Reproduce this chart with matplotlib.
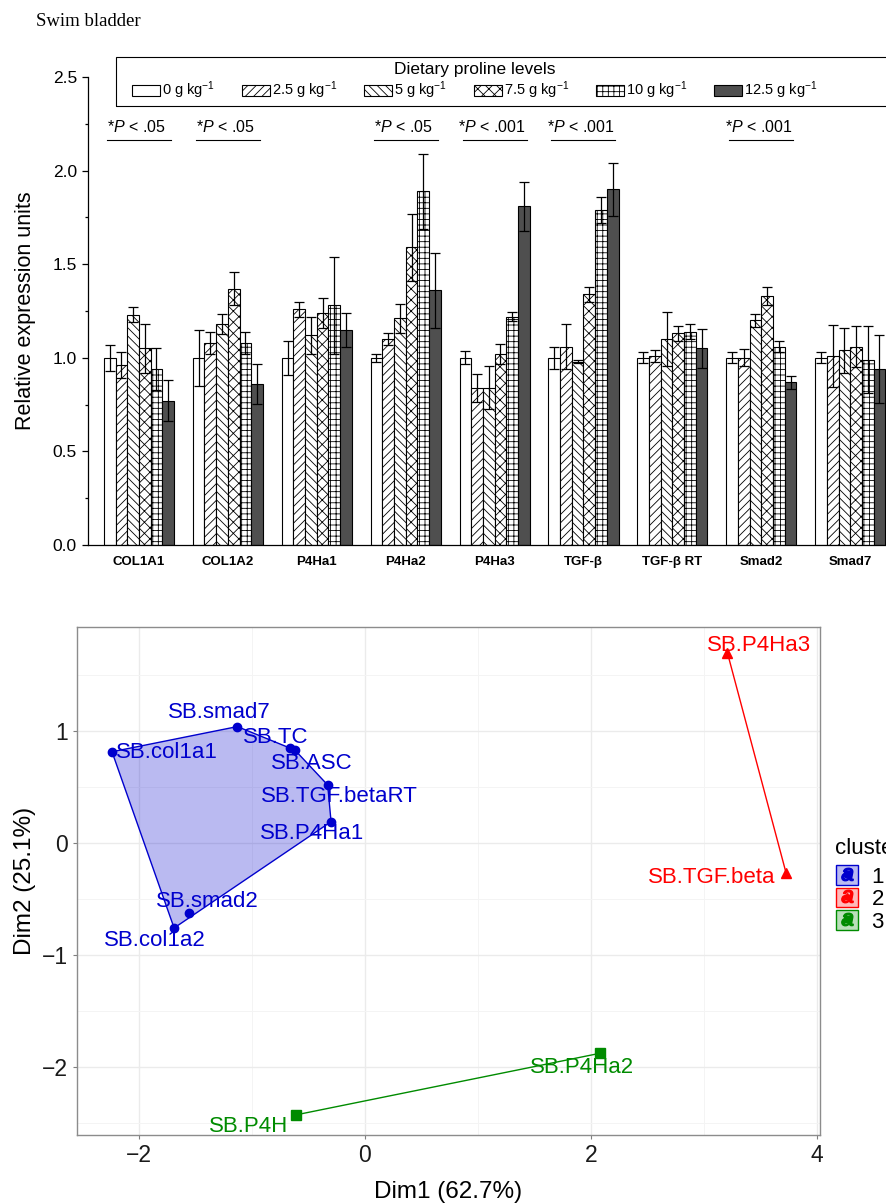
"""Swim bladder: bar chart of gene expression + PCA cluster plot."""
import matplotlib

matplotlib.use("Agg")
import matplotlib.pyplot as plt
import numpy as np
from matplotlib.legend_handler import HandlerTuple
from matplotlib.lines import Line2D
from matplotlib.patches import Patch, Rectangle

plt.rcParams["font.family"] = ["Liberation Sans", "DejaVu Sans"]
plt.rcParams["mathtext.fontset"] = "custom"
plt.rcParams["mathtext.rm"] = "Liberation Sans"
plt.rcParams["mathtext.it"] = "Liberation Sans:italic"
plt.rcParams["hatch.linewidth"] = 0.6

# --- top panel data ---
genes = ["COL1A1", "COL1A2", "P4Ha1", "P4Ha2", "P4Ha3", "TGF-β", "TGF-β RT", "Smad2", "Smad7"]
levels = ["0", "2.5", "5", "7.5", "10", "12.5"]

mean_0 = [1.00, 1.00, 1.00, 1.00, 1.00, 1.00, 1.00, 1.00, 1.00]
mean_2_5 = [0.96, 1.08, 1.26, 1.10, 0.84, 1.06, 1.01, 1.00, 1.01]
mean_5 = [1.23, 1.18, 1.12, 1.21, 0.84, 0.98, 1.10, 1.20, 1.04]
mean_7_5 = [1.05, 1.37, 1.24, 1.59, 1.02, 1.34, 1.13, 1.33, 1.06]
mean_10 = [0.94, 1.08, 1.28, 1.89, 1.22, 1.79, 1.14, 1.06, 0.99]
mean_12_5 = [0.77, 0.86, 1.15, 1.36, 1.81, 1.90, 1.05, 0.87, 0.94]

se_0 = [0.07, 0.15, 0.09, 0.02, 0.035, 0.06, 0.03, 0.03, 0.03]
se_2_5 = [0.07, 0.06, 0.04, 0.03, 0.075, 0.12, 0.03, 0.045, 0.165]
se_5 = [0.04, 0.055, 0.10, 0.08, 0.115, 0.01, 0.145, 0.035, 0.12]
se_7_5 = [0.13, 0.09, 0.08, 0.18, 0.055, 0.04, 0.04, 0.05, 0.11]
se_10 = [0.11, 0.06, 0.26, 0.20, 0.025, 0.07, 0.04, 0.03, 0.18]
se_12_5 = [0.11, 0.105, 0.09, 0.20, 0.13, 0.14, 0.105, 0.035, 0.18]

sig_genes = ["COL1A1", "COL1A2", "P4Ha2", "P4Ha3", "TGF-β", "Smad2"]
sig_p = [".05", ".05", ".05", ".001", ".001", ".001"]

# --- bottom panel data ---
var_names = ["SB.col1a1", "SB.smad7", "SB.TC", "SB.ASC", "SB.TGF.betaRT", "SB.P4Ha1",
             "SB.smad2", "SB.col1a2", "SB.P4Ha3", "SB.TGF.beta", "SB.P4Ha2", "SB.P4H"]
dim1 = [-2.24, -1.13, -0.66, -0.62, -0.33, -0.30, -1.56, -1.69, 3.21, 3.73, 2.08, -0.61]
dim2 = [0.815, 1.04, 0.846, 0.83, 0.518, 0.19, -0.628, -0.76, 1.70, -0.27, -1.88, -2.43]
cluster = [1, 1, 1, 1, 1, 1, 1, 1, 2, 2, 3, 3]

# label placement (pixels from the point), like ggrepel left them
label_offset = {
    "SB.col1a1": (55, -1), "SB.smad7": (-18, 14), "SB.TC": (-15, 11),
    "SB.ASC": (17, -13), "SB.TGF.betaRT": (12, -12), "SB.P4Ha1": (-19, -12),
    "SB.smad2": (19, 12), "SB.col1a2": (-19, -13), "SB.P4Ha3": (32, 7),
    "SB.TGF.beta": (-74, -4), "SB.P4Ha2": (-18, -14), "SB.P4H": (-47, -12),
}

W, H = 887, 1203
fig = plt.figure(figsize=(W / 100, H / 100), dpi=100)

fig.text(36 / W, 1 - 22 / H, "Swim bladder", family=["Liberation Serif"], fontsize=13.5,
         ha="left", va="center")

# ---------------- top: bars ----------------
ax1 = fig.add_axes([88 / W, 1 - 545 / H, (900 - 88) / W, (545 - 77) / H])
means = [mean_0, mean_2_5, mean_5, mean_7_5, mean_10, mean_12_5]
errs = [se_0, se_2_5, se_5, se_7_5, se_10, se_12_5]
hatches = ["", "////", "\\\\\\\\", "xxx", "+++", ""]
fills = ["white", "white", "white", "white", "white", "#4f4f4f"]
bw = 0.1315
x = np.arange(len(genes))
handles = []
for k in range(len(levels)):
    b = ax1.bar(x + (k - 2.5) * bw, means[k], bw, yerr=errs[k], color=fills[k],
                edgecolor="black", hatch=hatches[k], linewidth=0.8,
                error_kw=dict(ecolor="black", elinewidth=0.9, capsize=3.6, capthick=0.9))
    handles.append(b)

for g, p in zip(sig_genes, sig_p):
    i = genes.index(g)
    ax1.plot([i - 0.36, i + 0.36], [2.163, 2.163], color="black", lw=0.8)
    ax1.text(i - 0.03, 2.19, f"*$P$ < {p}", ha="center", va="bottom", fontsize=11.5)

ax1.set_xlim(-0.573, 8.56)
ax1.set_ylim(0, 2.5)
ax1.set_xticks(x)
ax1.set_xticklabels(genes, fontweight="bold", fontsize=9.5)
ax1.tick_params(axis="x", length=0, pad=8)
ax1.set_yticks(np.arange(0, 2.51, 0.5))
ax1.set_yticks(np.arange(0.25, 2.5, 0.5), minor=True)
ax1.yaxis.set_major_formatter(plt.FormatStrFormatter("%.1f"))
ax1.tick_params(axis="y", which="major", length=4.5, width=0.9, labelsize=12.5)
ax1.tick_params(axis="y", which="minor", length=2.5, width=0.9)
for s in ["top", "right"]:
    ax1.spines[s].set_visible(False)
for s in ["left", "bottom"]:
    ax1.spines[s].set_linewidth(0.9)
ax1.set_ylabel("Relative expression units", fontsize=15.5, labelpad=12)

labels = [f"{l} g kg$^{{-1}}$" for l in levels]
fig.legend(handles, labels, loc="upper left", bbox_to_anchor=(121 / W, 1 - 51 / H),
           ncol=6, frameon=False, title="Dietary proline levels", title_fontsize=12.5,
           fontsize=10.5, handlelength=1.9, handleheight=0.85, handletextpad=0.15,
           columnspacing=1.85, borderpad=0.25, labelspacing=0.2)
fig.patches.append(Rectangle((116 / W, 1 - 106 / H), (905 - 116) / W, 49 / H,
                             transform=fig.transFigure, fill=False,
                             edgecolor="black", lw=0.8))

# ---------------- bottom: cluster plot ----------------
ax2 = fig.add_axes([77 / W, 1 - 1135 / H, (820 - 77) / W, (1135 - 627) / H])
colors = {1: "#0000CD", 2: "#FF0000", 3: "#008B00"}
markers = {1: "o", 2: "^", 3: "s"}
msize = {1: 6, 2: 7.5, 3: 6.5}


def hull(pts):
    pts = sorted(set(pts))
    if len(pts) < 3:
        return pts

    def cross(o, a, b):
        return (a[0] - o[0]) * (b[1] - o[1]) - (a[1] - o[1]) * (b[0] - o[0])

    lower, upper = [], []
    for p in pts:
        while len(lower) >= 2 and cross(lower[-2], lower[-1], p) <= 0:
            lower.pop()
        lower.append(p)
    for p in reversed(pts):
        while len(upper) >= 2 and cross(upper[-2], upper[-1], p) <= 0:
            upper.pop()
        upper.append(p)
    return lower[:-1] + upper[:-1]


for c in [1, 2, 3]:
    idx = [i for i, v in enumerate(cluster) if v == c]
    h = hull([(dim1[i], dim2[i]) for i in idx])
    hx = [p[0] for p in h]
    hy = [p[1] for p in h]
    ax2.fill(hx, hy, facecolor=matplotlib.colors.to_rgba(colors[c], 0.27),
             edgecolor=colors[c], lw=1.0, zorder=2)
    ax2.plot([dim1[i] for i in idx], [dim2[i] for i in idx], ls="", marker=markers[c],
             color=colors[c], ms=msize[c], zorder=3)
    for i in idx:
        ax2.annotate(var_names[i], (dim1[i], dim2[i]), xytext=label_offset[var_names[i]],
                     textcoords="offset pixels", ha="center", va="center",
                     color=colors[c], fontsize=16, zorder=4)

ax2.set_xlim(-2.55, 4.03)
ax2.set_ylim(-2.61, 1.93)
ax2.set_xticks([-2, 0, 2, 4])
ax2.set_xticks([-1, 1, 3], minor=True)
ax2.set_yticks([-2, -1, 0, 1])
ax2.set_yticks([-2.5, -1.5, -0.5, 0.5, 1.5], minor=True)
ax2.grid(which="major", color="#ebebeb", lw=1.0, zorder=0)
ax2.grid(which="minor", color="#f4f4f4", lw=0.7, zorder=0)
ax2.set_axisbelow(True)
ax2.tick_params(which="major", length=3, color="#7f7f7f", labelsize=16.5,
                labelcolor="#1a1a1a")
ax2.tick_params(which="minor", length=0)
for s in ax2.spines.values():
    s.set_color("#8c8c8c")
    s.set_linewidth(1.0)
ax2.set_xlabel("Dim1 (62.7%)", fontsize=17.5, labelpad=10)
ax2.set_ylabel("Dim2 (25.1%)", fontsize=17.5, labelpad=4)

key_handles = []
for c in [1, 2, 3]:
    key_handles.append((
        Patch(facecolor=matplotlib.colors.to_rgba(colors[c], 0.27), edgecolor=colors[c]),
        Line2D([], [], ls="", marker="$a$", color=colors[c], ms=9),
        Line2D([], [], ls="", marker=markers[c], color=colors[c], ms=5),
    ))
fig.text(835 / W, 1 - 848 / H, "cluster", fontsize=16, ha="left", va="center")
ax2.legend(key_handles, ["1", "2", "3"],
           handler_map={tuple: HandlerTuple(ndivide=1, pad=0)},
           loc="upper left", bbox_to_anchor=(836 / W, 1 - 865 / H),
           bbox_transform=fig.transFigure, frameon=False,
           fontsize=16, handlelength=1.0, handleheight=1.0,
           labelspacing=0.0, handletextpad=0.6, borderpad=0, borderaxespad=0)

fig.savefig("out.png", dpi=100)
